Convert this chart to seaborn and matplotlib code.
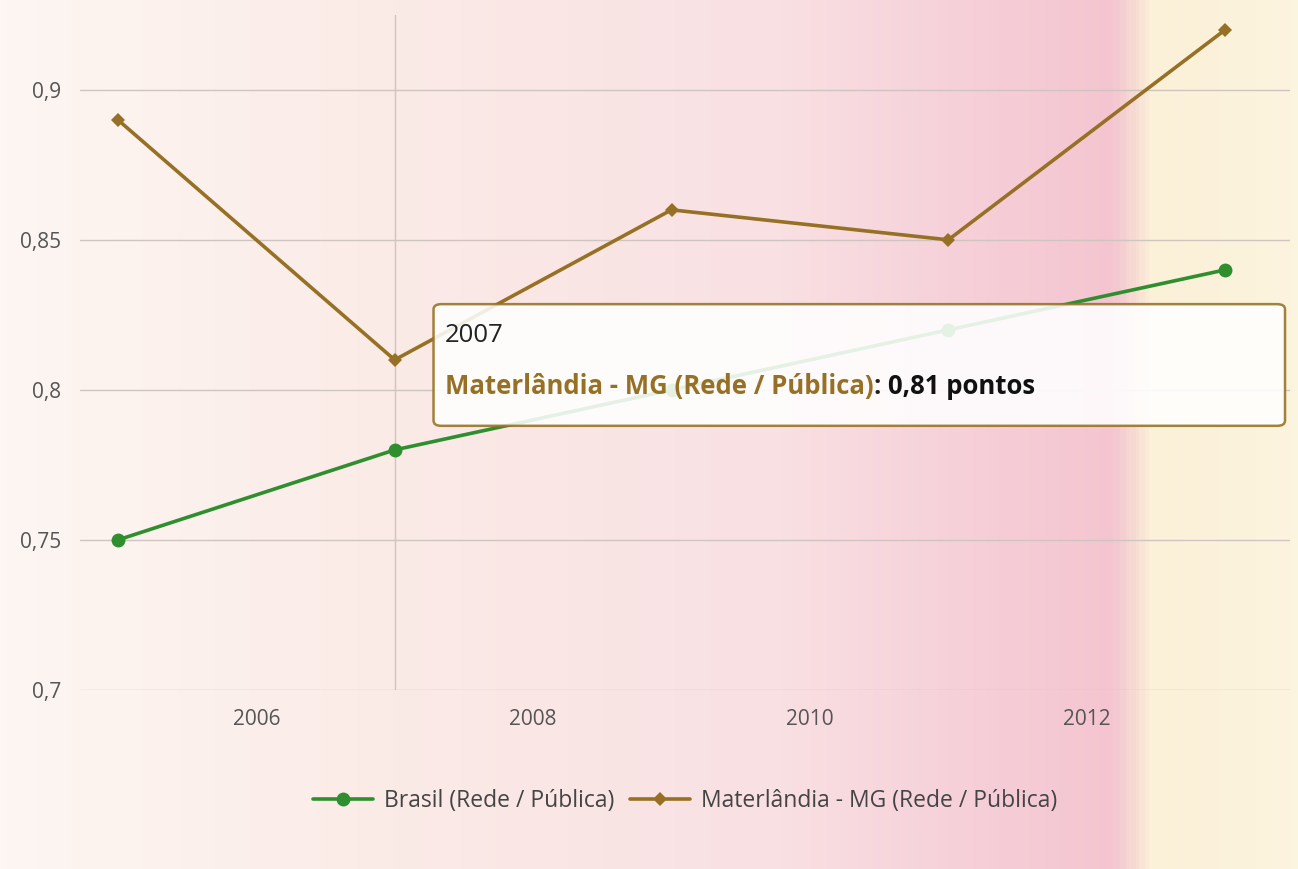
import matplotlib
matplotlib.use("Agg")
import matplotlib.pyplot as plt
from matplotlib.colors import LinearSegmentedColormap
from matplotlib.patches import FancyBboxPatch
import numpy as np
import pandas as pd
import seaborn as sns

anos = [2005, 2007, 2009, 2011, 2013]
brasil = [0.75, 0.78, 0.80, 0.82, 0.84]
materlandia = [0.89, 0.81, 0.86, 0.85, 0.92]

serie_brasil = "Brasil (Rede / Pública)"
serie_mat = "Materlândia - MG (Rede / Pública)"

y_ticks = [0.7, 0.75, 0.8, 0.85, 0.9]
y_labels = ["0,7", "0,75", "0,8", "0,85", "0,9"]
x_ticks = [2006, 2008, 2010, 2012]

verde = "#2f8f2f"
marrom = "#967125"

df = pd.DataFrame({
    "ano": anos * 2,
    "valor": brasil + materlandia,
    "serie": [serie_brasil] * len(anos) + [serie_mat] * len(anos),
})

sns.set_theme(style="white")
plt.rcParams["font.family"] = ["Open Sans", "DejaVu Sans"]

fig = plt.figure(figsize=(12.98, 8.69), dpi=100)

# fundo (foto da tela: rosa/amarelo)
bg = fig.add_axes([0, 0, 1, 1], zorder=-10)
cores_fundo = [(0.0, "#fdf6f2"), (0.3, "#fbebe7"), (0.6, "#f9e0e3"),
               (0.75, "#f6cfd8"), (0.86, "#f4c5d0"), (0.89, "#fbf0d8"),
               (1.0, "#fbf4de")]
cmap_fundo = LinearSegmentedColormap.from_list("fundo", cores_fundo)
bg.imshow(np.linspace(0, 1, 400).reshape(1, -1), aspect="auto", cmap=cmap_fundo,
          extent=[0, 1, 0, 1])
bg.axis("off")

ax = fig.add_axes([0.062, 0.206, 0.932, 0.777])
ax.patch.set_alpha(0)

sns.lineplot(data=df, x="ano", y="valor", hue="serie", style="serie",
             palette={serie_brasil: verde, serie_mat: marrom},
             markers={serie_brasil: "o", serie_mat: "D"}, dashes=False,
             linewidth=2.6, markersize=10, markeredgewidth=0, ax=ax)
for line in ax.lines:
    if line.get_marker() == "D":
        line.set_markersize(7.5)

ax.set_xlim(2004.73, 2013.47)
ax.set_ylim(0.7, 0.925)
ax.set_yticks(y_ticks)
ax.set_yticklabels(y_labels)
ax.set_xticks(x_ticks)
ax.set_xticklabels([str(a) for a in x_ticks])
ax.tick_params(axis="both", length=0, labelsize=15, colors="#555555")
ax.tick_params(axis="y", pad=14)
ax.tick_params(axis="x", pad=14)
ax.set_xlabel("")
ax.set_ylabel("")
ax.grid(axis="y", color="#cfc4c0", linewidth=1)
ax.axvline(2007, color="#cfc4c0", linewidth=1, zorder=0)
for s in ax.spines.values():
    s.set_visible(False)

leg = ax.legend(loc="center", bbox_to_anchor=(0.5, -0.165), ncol=2,
                frameon=False, fontsize=16.5, handlelength=2.6, columnspacing=0.7,
                handletextpad=0.5)
for t in leg.get_texts():
    t.set_color("#444444")

# tooltip
caixa = FancyBboxPatch((0.334, 0.51), 0.656, 0.14,
                       boxstyle="round,pad=0,rounding_size=0.006",
                       transform=fig.transFigure, fc="white", ec=marrom,
                       lw=1.8, alpha=0.88, zorder=5)
ax.add_artist(caixa)
caixa.set_clip_on(False)
fig.text(0.343, 0.607, "2007", fontsize=18.5, color="#222222", zorder=6)
t1 = fig.text(0.343, 0.547, serie_mat, fontsize=18.5, color=marrom,
              fontweight="bold", zorder=6)
fig.canvas.draw()
t2 = ax.annotate(": ", xycoords=t1, xy=(1, 0), va="bottom", fontsize=18.5,
                 color="#222222", fontweight="bold", zorder=6)
ax.annotate("0,81 pontos", xycoords=t2, xy=(1, 0), va="bottom", fontsize=18.5,
            color="#111111", fontweight="bold", zorder=6)

fig.savefig("out.png", dpi=100)
